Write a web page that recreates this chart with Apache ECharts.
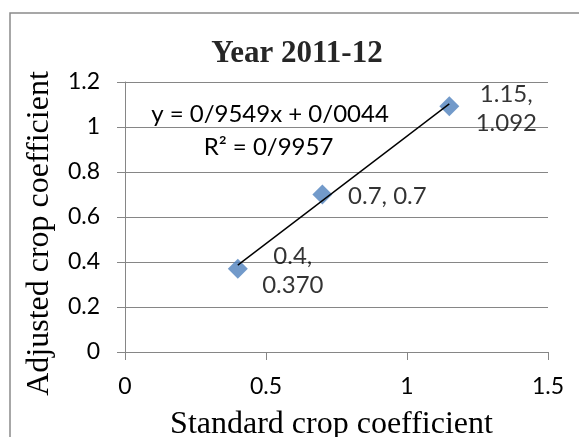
<!DOCTYPE html>
<html>
<head>
<meta charset="utf-8">
<script src="https://cdn.jsdelivr.net/npm/echarts@6/dist/echarts.min.js"></script>
<style>
  html, body { margin: 0; padding: 0; background: #fff; }
  #chart { width: 579px; height: 437px; }
</style>
</head>
<body>
<div id="chart"></div>
<script>
// Standard vs adjusted crop coefficient, 2011-12
const standardKc = [0.4, 0.7, 1.15];
const adjustedKc = [0.370, 0.7, 1.092];
const pointLabels = ['0.4,\n0.370', '0.7, 0.7', '1.15,\n1.092'];
const labelOffsets = [[55, 2], [65, 2], [57, 2]];

// Linear trendline as reported on the chart
const trendSlope = 0.9549;
const trendIntercept = 0.0044;
const trendRange = [0.4, 1.15];
const equationText = 'y = 0/9549x + 0/0044';
const r2Text = 'R\u00b2 = 0/9957';

const xAxisRange = [0, 1.5, 0.5];
const yAxisRange = [0, 1.2, 0.2];

const serif = '"Liberation Serif", "Times New Roman", serif';
const sans = 'Lato, "Open Sans", sans-serif';
const gridGray = '#868686';

const chart = echarts.init(document.getElementById('chart'), null, { renderer: 'canvas' });

const scatterData = standardKc.map((x, i) => ({
  value: [x, adjustedKc[i]],
  label: { formatter: pointLabels[i], offset: labelOffsets[i] }
}));

const trendData = trendRange.map(x => [x, trendSlope * x + trendIntercept]);

chart.setOption({
  animation: false,
  backgroundColor: '#ffffff',
  title: {
    text: 'Year 2011-12',
    left: 297,
    top: 38,
    textAlign: 'center',
    padding: 0,
    textStyle: { fontFamily: serif, fontWeight: 'bold', fontSize: 31, color: '#262626' }
  },
  grid: { left: 125, right: 31, top: 82, bottom: 85, containLabel: false, outerBoundsMode: 'none' },
  xAxis: {
    type: 'value',
    min: xAxisRange[0], max: xAxisRange[1], interval: xAxisRange[2],
    name: 'Standard crop coefficient',
    nameLocation: 'middle',
    nameGap: 57,
    nameTextStyle: { fontFamily: serif, fontSize: 32, color: '#000', padding: [0, 10, 0, 0] },
    axisLine: { show: true, onZero: false, lineStyle: { color: gridGray, width: 1 } },
    axisTick: { show: true, inside: false, length: 8, lineStyle: { color: gridGray } },
    axisLabel: { fontFamily: sans, fontSize: 23, color: '#000', margin: 23 },
    splitLine: { show: false }
  },
  yAxis: {
    type: 'value',
    min: yAxisRange[0], max: yAxisRange[1], interval: yAxisRange[2],
    name: 'Adjusted crop coefficient',
    nameLocation: 'middle',
    nameGap: 69,
    nameTextStyle: { fontFamily: serif, fontSize: 32, color: '#000', padding: [0, 33, 0, 0] },
    axisLine: { show: true, onZero: false, lineStyle: { color: gridGray, width: 1 } },
    axisTick: { show: true, inside: false, length: 8, lineStyle: { color: gridGray } },
    axisLabel: { fontFamily: sans, fontSize: 23, color: '#000', margin: 25 },
    splitLine: { show: true, lineStyle: { color: gridGray, width: 1 } }
  },
  graphic: [
    {
      type: 'rect',
      shape: { x: 10, y: 13, width: 700, height: 600 },
      style: { fill: 'none', stroke: '#8a8a8a', lineWidth: 1.5 },
      z: 0, silent: true
    },
    {
      type: 'text',
      style: { text: equationText, x: 270, y: 114, align: 'center', verticalAlign: 'middle',
               font: '24px ' + sans, fill: '#000' },
      z: 10
    },
    {
      type: 'text',
      style: { text: r2Text, x: 268.5, y: 147.5, align: 'center', verticalAlign: 'middle',
               font: '24px ' + sans, fill: '#000' },
      z: 10
    }
  ],
  series: [
    {
      type: 'line',
      data: trendData,
      symbol: 'none',
      lineStyle: { color: '#000', width: 1.4 },
      z: 3,
      silent: true
    },
    {
      type: 'scatter',
      data: scatterData,
      symbol: 'diamond',
      symbolSize: 20,
      itemStyle: { color: '#4F81BD' },
      z: 2,
      label: {
        show: true,
        position: 'inside',
        align: 'center',
        verticalAlign: 'middle',
        fontFamily: sans,
        fontSize: 24,
        lineHeight: 29,
        color: '#000'
      }
    }
  ]
});
</script>
</body>
</html>
